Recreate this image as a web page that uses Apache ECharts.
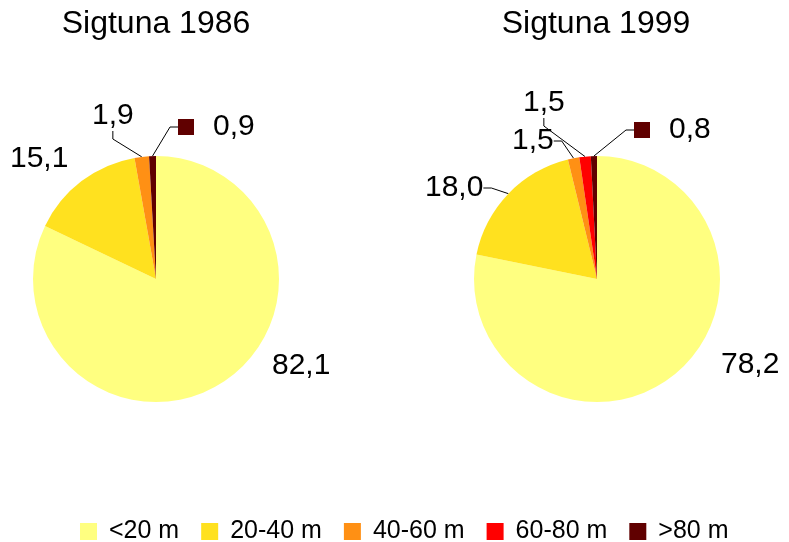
<!DOCTYPE html>
<html>
<head>
<meta charset="utf-8">
<script src="https://cdn.jsdelivr.net/npm/echarts@6/dist/echarts.min.js"></script>
<style>
html, body { margin: 0; padding: 0; background: #fff; }
#chart { width: 789px; height: 542px; }
</style>
</head>
<body>
<div id="chart"></div>
<script>
var categories = ['<20 m', '20-40 m', '40-60 m', '60-80 m', '>80 m'];
var colors = ['#FFFF80', '#FFE11F', '#FF9014', '#FF0000', '#600000'];
var titles = ['Sigtuna 1986', 'Sigtuna 1999'];
var values1986 = [82.1, 15.1, 1.9, 0, 0.9];
var values1999 = [78.2, 18.0, 1.5, 1.5, 0.8];

// label spots (left edge, middle) per series, per slice
var labelSpots = [
    [[272, 366], [10, 159], [92, 116], null, [178, 127]],
    [[721, 365], [425, 188], [512, 141], [483, 103], [634, 130]]
];
// which slices get a leader line
var leaders = [
    [false, false, true, false, true],
    [false, true, true, true, true]
];
// extra left padding so the leader leaves from the right side
var leftPads = [
    [0, 0, 0, 0, 0],
    [0, 0, 0, 40, 0]
];

function fmt(v){
    return v.toFixed(1).replace('.', ',');
}

function build_data(values, s){
    var out = [];
    for(var i = 0; i < values.length; i ++){
        var item = {
            name: categories[i],
            value: values[i],
            itemStyle: { color: colors[i] },
            labelLine: { show: leaders[s][i] }
        };
        if(labelSpots[s][i] == null){
            item.label = { show: false };
        } else if(leftPads[s][i]){
            item.label = { padding: [0, 0, 0, leftPads[s][i]] };
        }
        out.push(item);
    }
    return out;
}

function make_series(values, s, cx){
    return {
        type: 'pie',
        center: [cx, 279],
        radius: 123,
        startAngle: 90,
        clockwise: true,
        avoidLabelOverlap: false,
        animation: false,
        data: build_data(values, s),
        itemStyle: { borderWidth: 0 },
        emphasis: { disabled: true },
        label: {
            show: true,
            position: 'outside',
            fontFamily: 'Liberation Sans, Arial, sans-serif',
            fontSize: 30,
            color: '#000',
            formatter: function (p) {
                if(p.dataIndex == 4){
                    return '{sq|}{t|' + fmt(p.value) + '}';
                }
                return fmt(p.value);
            },
            rich: {
                sq: { width: 16, height: 16, backgroundColor: colors[4] },
                t: { fontSize: 30, padding: [0, 0, 0, 19], color: '#000',
                     fontFamily: 'Liberation Sans, Arial, sans-serif' }
            }
        },
        labelLine: {
            length: 10,
            length2: 8,
            smooth: false,
            lineStyle: { color: '#000', width: 1 }
        },
        labelLayout: function (params) {
            var spot = labelSpots[s][params.dataIndex];
            if(!spot) return {};
            return { x: spot[0], y: spot[1], align: 'left', verticalAlign: 'middle' };
        }
    };
}

var myChart = echarts.init(document.getElementById('chart'));
var option = {
    backgroundColor: '#fff',
    title: [
        { text: titles[0], left: 156, top: 6, textAlign: 'center', padding: 0,
          textStyle: { fontFamily: 'Liberation Sans, Arial, sans-serif', fontSize: 32, fontWeight: 'normal', color: '#000', lineHeight: 36 } },
        { text: titles[1], left: 596, top: 6, textAlign: 'center', padding: 0,
          textStyle: { fontFamily: 'Liberation Sans, Arial, sans-serif', fontSize: 32, fontWeight: 'normal', color: '#000', lineHeight: 36 } }
    ],
    legend: {
        data: categories,
        left: 80,
        top: 519,
        padding: 0,
        itemWidth: 17,
        itemHeight: 17,
        itemGap: 22,
        icon: 'rect',
        selectedMode: false,
        textStyle: {
            fontFamily: 'Liberation Sans, Arial, sans-serif',
            fontSize: 25,
            color: '#000',
            padding: [0, 0, 0, 7]
        }
    },
    series: [
        make_series(values1986, 0, 156),
        make_series(values1999, 1, 597)
    ]
};
myChart.setOption(option);
</script>
</body>
</html>
